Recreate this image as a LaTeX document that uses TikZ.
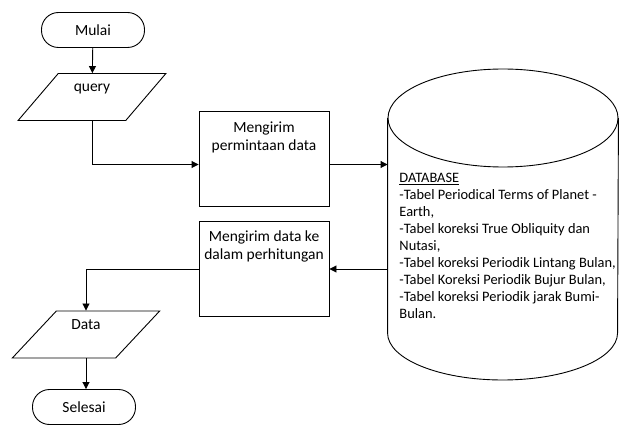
\documentclass[tikz,border=0pt]{standalone}
\usepackage{fontspec}
\setmainfont{Carlito}
\usetikzlibrary{shapes.geometric,arrows.meta}

\begin{document}
\begin{tikzpicture}[x=1pt, y=-1pt, line width=0.9pt,
    font=\fontsize{15.5}{18}\selectfont,
    arr/.style={-{Triangle[length=7pt,width=7pt]}},
    terminal/.style={draw, rounded corners=17pt, minimum width=103pt,
      minimum height=35pt, inner sep=0pt},
    io/.style={draw, trapezium, trapezium left angle=55, trapezium right angle=125,
      trapezium stretches=true, minimum width=148pt, minimum height=47pt,
      text height=10pt, text depth=21pt, inner sep=0pt},
    process/.style={draw, minimum width=130pt, minimum height=95pt},
    boxtext/.style={anchor=north, align=center, inner sep=2pt}]

  \useasboundingbox (0,0) rectangle (619,425);

  \node[terminal] (mulai) at (93,30) {Mulai};
  \node[io] (query) at (92,97) {query};
  \node[process, label={[boxtext, yshift=-9pt]north:Mengirim\\permintaan data}]
    (kirim) at (264,158.5) {};
  \node[process, label={[boxtext, yshift=-7pt]north:Mengirim data ke\\dalam perhitungan}]
    (hitung) at (264,269) {};
  \node[io] (data) at (86,334.5) {Data};
  \node[terminal] (selesai) at (84,407) {Selesai};

  % database (tabung)
  \node[minimum width=230pt, minimum height=311pt] (db) at (503,224.5) {};
  \draw (503,118) ellipse [x radius=115pt, y radius=49pt];
  \draw (db.west |- 0,118) -- (db.west |- 0,333)
    arc[start angle=180, end angle=360, x radius=115pt, y radius=47pt]
    -- (db.east |- 0,118);
  \node[anchor=north west, align=left, inner sep=2pt,
    font=\fontsize{14.4}{17}\selectfont] (tabel) at (397,171)
    {\underline{DATABASE}\\
     -Tabel Periodical Terms of Planet -\\
     Earth,\\
     -Tabel koreksi True Obliquity dan\\
     Nutasi,\\
     -Tabel koreksi Periodik Lintang Bulan,\\
     -Tabel Koreksi Periodik Bujur Bulan,\\
     -Tabel koreksi Periodik jarak Bumi-\\
     Bulan.};

  % alur
  \draw[arr] (mulai) -- (query);
  \draw[arr] (query.center |- query.south) |- ([yshift=-6pt]kirim.west);
  \draw[arr] ([yshift=-6pt]kirim.east) -- ([yshift=-6pt]kirim.east -| db.west);
  \draw[arr] (db.west |- hitung.east) -- (hitung.east);
  \draw[arr] (hitung.west) -| (data.center |- data.north);
  \draw[arr] (data.center |- data.south) -- (data.center |- selesai.north);
\end{tikzpicture}
\end{document}
